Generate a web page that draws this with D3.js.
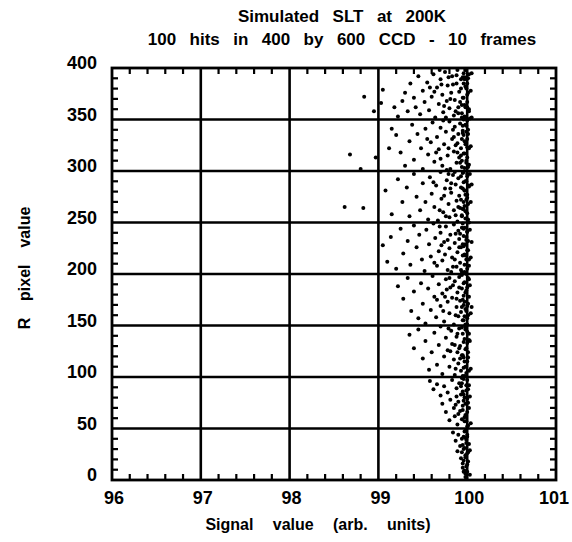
<!DOCTYPE html>
<html>
<head>
<meta charset="utf-8">
<script src="https://cdn.jsdelivr.net/npm/d3@7"></script>
<style>
  body { margin: 0; background: #fff; }
  text { font-family: "Liberation Sans", Arial, sans-serif; font-weight: bold; fill: #000; white-space: pre; }
</style>
</head>
<body>
<div id="chart"></div>
<script>
const titleLines = ['Simulated  SLT  at  200K', '100  hits  in  400  by  600  CCD  -  10  frames'];
const xLabel = 'Signal   value   (arb.   units)';
const yLabel = 'R  pixel  value';
const xTicks = [96, 97, 98, 99, 100, 101];
const yTicks = [0, 50, 100, 150, 200, 250, 300, 350, 400];

// hits, by band of R pixel value
const band350 = [[98.84,372],[98.95,358],[99.03,366],[99.05,379],[99.18,362],[99.22,353],[99.27,368],[99.3,376],[99.33,358],[99.36,385],[99.4,371],[99.42,362],[99.45,392],[99.47,355],[99.5,378],[99.52,367],[99.55,386],[99.57,359],[99.6,372],[99.62,394],[99.64,352],[99.66,381],[99.68,365],[99.7,389],[99.72,374],[99.73,357],[99.75,396],[99.77,368],[99.78,383],[99.8,361],[99.82,376],[99.83,392],[99.85,354],[99.86,369],[99.88,385],[99.89,398],[99.9,362],[99.91,377],[99.93,389],[99.94,356],[99.95,371],[99.96,395],[99.97,364],[99.98,382],[99.99,351],[100.0,374],[100.01,390],[100.02,360],[99.92,367],[99.87,358],[99.79,391],[99.69,398],[99.58,381],[99.96,385],[99.98,398],[100.0,362],[99.94,352],[99.84,384],[99.74,363],[99.63,377]];
const band300 = [[98.68,316],[98.8,302],[98.97,313],[99.12,322],[99.2,335],[99.15,341],[99.25,318],[99.3,305],[99.35,329],[99.38,345],[99.4,311],[99.44,336],[99.48,322],[99.5,302],[99.53,341],[99.56,316],[99.59,328],[99.61,347],[99.63,309],[99.66,333],[99.68,321],[99.7,342],[99.72,305],[99.74,326],[99.76,338],[99.78,315],[99.8,348],[99.81,302],[99.83,331],[99.85,319],[99.86,343],[99.88,308],[99.89,327],[99.9,336],[99.91,313],[99.92,346],[99.93,322],[99.94,304],[99.95,339],[99.96,317],[99.97,329],[99.98,345],[99.99,310],[100.0,323],[100.01,336],[100.02,306],[99.96,350],[99.87,325],[99.77,301],[99.65,318],[99.55,331],[99.99,338],[99.93,315],[99.84,340],[99.73,349],[99.97,303]];
const band250 = [[98.62,265],[98.83,264],[99.08,281],[99.15,258],[99.22,292],[99.27,270],[99.32,284],[99.35,256],[99.4,297],[99.43,275],[99.47,262],[99.5,288],[99.53,270],[99.56,253],[99.58,294],[99.6,278],[99.63,265],[99.65,286],[99.67,252],[99.7,299],[99.71,273],[99.73,260],[99.75,283],[99.77,291],[99.79,268],[99.8,255],[99.82,279],[99.84,296],[99.85,262],[99.87,287],[99.88,271],[99.89,251],[99.9,293],[99.91,276],[99.92,264],[99.93,284],[99.94,257],[99.95,298],[99.96,270],[99.97,281],[99.98,261],[99.99,290],[100.0,274],[100.01,253],[100.02,285],[99.86,299],[99.76,256],[99.62,289],[99.97,266],[99.93,295],[99.81,283],[99.69,262],[99.98,277],[100.0,297]];
const band200 = [[99.05,228],[99.1,212],[99.14,236],[99.2,205],[99.25,244],[99.28,220],[99.33,232],[99.36,209],[99.4,247],[99.43,226],[99.46,238],[99.49,214],[99.52,203],[99.54,243],[99.57,229],[99.59,217],[99.62,249],[99.64,235],[99.66,208],[99.68,222],[99.7,240],[99.72,213],[99.74,231],[99.76,246],[99.78,204],[99.8,225],[99.81,238],[99.83,216],[99.85,248],[99.86,230],[99.88,207],[99.89,221],[99.9,242],[99.91,234],[99.92,211],[99.93,226],[99.94,245],[99.95,218],[99.96,237],[99.97,202],[99.98,229],[99.99,214],[100.0,241],[100.01,223],[100.02,208],[99.87,239],[99.75,219],[99.63,211],[99.95,249],[99.99,233],[99.82,202],[99.71,228],[99.97,219],[99.93,204]];
const band150 = [[99.22,188],[99.28,176],[99.33,196],[99.37,164],[99.4,183],[99.45,157],[99.48,191],[99.5,171],[99.53,152],[99.56,186],[99.59,165],[99.61,198],[99.63,178],[99.65,158],[99.68,190],[99.7,169],[99.72,181],[99.74,154],[99.76,195],[99.78,173],[99.8,162],[99.81,187],[99.83,177],[99.85,151],[99.86,193],[99.88,168],[99.89,182],[99.9,159],[99.91,197],[99.92,174],[99.93,163],[99.94,186],[99.95,155],[99.96,179],[99.97,192],[99.98,166],[99.99,184],[100.0,157],[100.01,171],[100.02,195],[99.87,160],[99.77,185],[99.66,175],[99.94,199],[99.98,151],[99.84,189],[99.73,164],[99.96,170]];
const band100 = [[99.35,141],[99.4,128],[99.45,146],[99.5,118],[99.53,135],[99.57,107],[99.6,124],[99.63,143],[99.66,112],[99.68,131],[99.7,149],[99.72,103],[99.74,120],[99.76,138],[99.78,126],[99.8,110],[99.82,145],[99.83,132],[99.85,117],[99.86,102],[99.88,139],[99.89,124],[99.9,113],[99.91,147],[99.92,130],[99.93,106],[99.94,121],[99.95,142],[99.96,134],[99.97,115],[99.98,127],[99.99,104],[100.0,144],[100.01,119],[100.02,136],[99.87,108],[99.79,147],[99.95,101],[99.98,149],[99.91,128]];
const band50 = [[99.58,96],[99.62,88],[99.66,93],[99.7,82],[99.72,74],[99.74,91],[99.76,66],[99.78,85],[99.8,58],[99.81,78],[99.83,97],[99.85,70],[99.86,62],[99.88,89],[99.89,54],[99.9,76],[99.91,94],[99.92,67],[99.93,83],[99.94,59],[99.95,72],[99.96,98],[99.97,80],[99.98,63],[99.99,87],[100.0,52],[100.01,75],[100.02,92],[99.97,57],[99.94,99],[99.87,73],[99.95,86]];
const band0 = [[99.84,46],[99.87,38],[99.89,28],[99.9,44],[99.92,33],[99.93,21],[99.94,40],[99.95,12],[99.96,30],[99.97,47],[99.98,24],[99.98,6],[99.99,36],[100.0,15],[100.0,42],[100.01,27],[99.97,9],[99.99,2],[99.96,19],[99.95,34]];
// extra hits in the crowded part between 99.6 and 100
const crowd = [[99.88,393],[99.81,370],[99.93,380],[99.76,352],[99.9,356],[99.71,384],[99.97,391],[99.85,333],[99.92,308],[99.79,322],[99.95,344],[99.7,312],[99.89,318],[99.94,331],[99.82,288],[99.9,265],[99.96,289],[99.74,276],[99.87,257],[99.93,272],[99.79,297],[99.95,263],[99.86,214],[99.91,226],[99.78,233],[99.96,244],[99.84,207],[99.92,239],[99.69,246],[99.88,176],[99.94,168],[99.8,196],[99.91,187],[99.75,178],[99.97,159],[99.86,131],[99.92,118],[99.81,125],[99.96,109],[99.89,142],[99.93,91],[99.9,64],[99.96,77],[99.88,81],[99.98,41],[99.94,27],[99.96,8]];
// the dense pile-up right at 100
const edgeHits = [[99.98,3],[100.0,8],[99.99,13],[100.01,18],[99.98,22],[100.0,26],[99.97,31],[100.02,35],[99.99,39],[100.0,44],[99.98,48],[100.01,53],[99.99,57],[99.97,61],[100.0,66],[100.02,70],[99.98,74],[100.0,79],[99.96,83],[100.01,88],[99.99,92],[100.0,97],[99.97,101],[100.02,106],[99.98,110],[100.0,115],[99.96,119],[100.01,124],[99.99,128],[100.0,133],[99.97,137],[100.02,142],[99.98,146],[100.0,151],[99.96,155],[100.01,160],[99.99,164],[100.0,169],[99.97,173],[100.02,178],[99.98,182],[100.0,187],[99.96,191],[100.01,196],[99.99,200],[100.0,205],[99.97,209],[100.02,214],[99.98,218],[100.0,223],[99.96,227],[100.01,232],[99.99,236],[100.0,241],[99.97,245],[100.02,250],[99.98,254],[100.0,259],[99.96,263],[100.01,268],[99.99,272],[100.0,277],[99.97,281],[100.02,286],[99.98,290],[100.0,295],[99.96,299],[100.01,304],[99.99,308],[100.0,313],[99.97,317],[100.02,322],[99.98,326],[100.0,331],[99.96,335],[100.01,340],[99.99,344],[100.0,349],[99.97,353],[100.02,358],[99.98,362],[100.0,367],[99.96,371],[100.01,376],[99.99,380],[100.0,385],[99.97,389],[100.02,394],[99.98,398]];
const edgeHits2 = [[100.03,5],[99.95,16],[100.03,29],[99.96,42],[100.04,55],[99.95,68],[100.03,81],[99.94,94],[100.04,108],[99.95,121],[100.03,135],[99.94,148],[100.04,162],[99.95,175],[100.03,189],[99.94,202],[100.04,216],[99.95,229],[100.03,243],[99.94,256],[100.04,270],[99.95,283],[100.03,297],[99.94,310],[100.04,324],[99.95,337],[100.03,351],[99.94,364],[100.04,378],[99.95,391],[100.05,395],[100.05,352],[100.05,287],[100.05,231],[100.05,168]];

const hits = [].concat(band350, band300, band250, band200, band150, band100, band50, band0, crowd, edgeHits, edgeHits2);

const width = 572;
const height = 542;
const margin = { left: 112, right: 16, top: 68, bottom: 62 };

const x = d3.scaleLinear().domain([96, 101]).range([margin.left, width - margin.right]);
const y = d3.scaleLinear().domain([0, 400]).range([height - margin.bottom, margin.top]);

const svg = d3.select('#chart')
  .append('svg')
  .attr('width', width)
  .attr('height', height);

/* title */
svg.selectAll('.title')
  .data(titleLines)
  .enter()
  .append('text')
  .attr('class', 'title')
  .attr('x', 342)
  .attr('y', (d, i) => 22 + i * 23)
  .attr('text-anchor', 'middle')
  .style('font-size', '17px')
  .style('word-spacing', '2px')
  .text(d => d);

const g = svg.append('g');

/* grid lines at the major ticks */
g.selectAll('.vgrid')
  .data(xTicks.slice(1, -1))
  .enter()
  .append('line')
  .attr('x1', d => x(d)).attr('x2', d => x(d))
  .attr('y1', y(0)).attr('y2', y(400))
  .attr('stroke', '#000')
  .attr('stroke-width', 2.6);

g.selectAll('.hgrid')
  .data(yTicks.slice(1, -1))
  .enter()
  .append('line')
  .attr('x1', x(96)).attr('x2', x(101))
  .attr('y1', d => y(d)).attr('y2', d => y(d))
  .attr('stroke', '#000')
  .attr('stroke-width', 2.4);

/* minor ticks, pointing inward on all four sides */
const tickLen = 6;
const xMinor = x.ticks(25).filter(v => !xTicks.includes(+v.toFixed(1)));
const yMinor = y.ticks(40).filter(v => v % 50 !== 0);

g.selectAll('.xminor-b')
  .data(xMinor)
  .enter()
  .append('line')
  .attr('x1', d => x(d)).attr('x2', d => x(d))
  .attr('y1', y(0)).attr('y2', y(0) - tickLen)
  .attr('stroke', '#000').attr('stroke-width', 2.2);

g.selectAll('.xminor-t')
  .data(xMinor)
  .enter()
  .append('line')
  .attr('x1', d => x(d)).attr('x2', d => x(d))
  .attr('y1', y(400)).attr('y2', y(400) + tickLen)
  .attr('stroke', '#000').attr('stroke-width', 2.2);

g.selectAll('.yminor-l')
  .data(yMinor)
  .enter()
  .append('line')
  .attr('x1', x(96)).attr('x2', x(96) + tickLen)
  .attr('y1', d => y(d)).attr('y2', d => y(d))
  .attr('stroke', '#000').attr('stroke-width', 2.2);

g.selectAll('.yminor-r')
  .data(yMinor)
  .enter()
  .append('line')
  .attr('x1', x(101)).attr('x2', x(101) - tickLen)
  .attr('y1', d => y(d)).attr('y2', d => y(d))
  .attr('stroke', '#000').attr('stroke-width', 2.2);

/* frame */
g.append('rect')
  .attr('x', x(96))
  .attr('y', y(400))
  .attr('width', x(101) - x(96))
  .attr('height', y(0) - y(400))
  .attr('fill', 'none')
  .attr('stroke', '#000')
  .attr('stroke-width', 2.8);

/* hits */
g.selectAll('.hit')
  .data(hits)
  .enter()
  .append('circle')
  .attr('class', 'hit')
  .attr('cx', d => x(d[0]))
  .attr('cy', d => y(d[1]))
  .attr('r', 2)
  .attr('fill', '#000');

/* tick labels */
svg.selectAll('.xlab')
  .data(xTicks)
  .enter()
  .append('text')
  .attr('x', d => x(d) + (d === 101 ? -2 : 2))
  .attr('y', y(0) + 24)
  .attr('text-anchor', 'middle')
  .style('font-size', '18px')
  .text(d => d);

svg.selectAll('.ylab')
  .data(yTicks)
  .enter()
  .append('text')
  .attr('x', x(96) - 15)
  .attr('y', d => y(d) + 1)
  .attr('text-anchor', 'end')
  .style('font-size', '18px')
  .text(d => d);

/* axis titles */
svg.append('text')
  .attr('x', 318)
  .attr('y', 530)
  .attr('text-anchor', 'middle')
  .style('font-size', '16px')
  .style('word-spacing', '2px')
  .text(xLabel);

svg.append('text')
  .attr('transform', 'translate(30, 268) rotate(-90)')
  .attr('text-anchor', 'middle')
  .style('font-size', '16px')
  .style('word-spacing', '4px')
  .text(yLabel);
</script>
</body>
</html>
